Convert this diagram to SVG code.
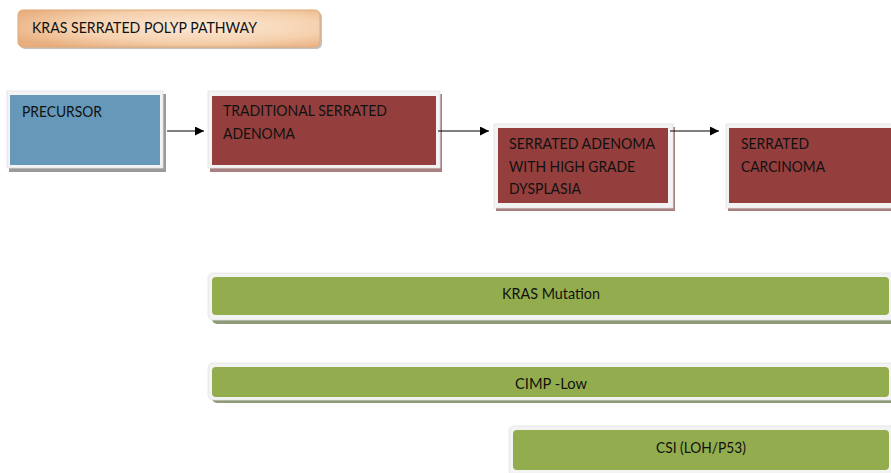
<svg xmlns="http://www.w3.org/2000/svg" width="891" height="473" viewBox="0 0 891 473">
<defs>
<radialGradient id="peach" cx="0.6" cy="0.45" r="0.7">
<stop offset="0" stop-color="#fce9d7"/>
<stop offset="0.6" stop-color="#f5d1ae"/>
<stop offset="1" stop-color="#e8ae7e"/>
</radialGradient>
<marker id="arr" viewBox="0 0 10 10" refX="10" refY="5" markerWidth="9" markerHeight="9" markerUnits="userSpaceOnUse" orient="auto">
<path d="M0,0 L10,5 L0,10 z" fill="#000"/>
</marker>
</defs>
<style>
text{font-family:Lato,"Open Sans","Liberation Sans",sans-serif;font-size:14.5px;fill:#111}
.mid{text-anchor:middle}
.frame{fill:#f3f3f3;stroke:#e2e2e2;stroke-width:0.8}
.shg{fill:#9a9a9a}
.shr{fill:#a88080}
.shgr{fill:#8f9a78}
.blue{fill:#6699b9}
.red{fill:#943f3e}
.green{fill:#93ad4e}
.conn line{stroke:#000;stroke-width:1.2;marker-end:url(#arr)}
</style>
<rect width="891" height="473" fill="#fff"/>

<g id="title">
<rect x="20" y="12" width="302" height="37" rx="5" fill="#c9c2bc"/>
<rect x="18" y="10" width="302" height="37" rx="5" fill="url(#peach)" stroke="#e0a874" stroke-width="1"/>
<text x="32" y="33" textLength="225" lengthAdjust="spacingAndGlyphs">KRAS SERRATED POLYP PATHWAY</text>
</g>

<g id="precursor">
<rect x="9" y="94" width="157" height="78" class="shg"/>
<rect x="7" y="91" width="156" height="77" class="frame"/>
<rect x="10" y="95" width="150" height="70" class="blue"/>
<text x="22" y="117" textLength="80" lengthAdjust="spacingAndGlyphs">PRECURSOR</text>
</g>

<g id="tsa">
<rect x="210" y="94" width="232" height="78" class="shr"/>
<rect x="208" y="91" width="232" height="77" class="frame"/>
<rect x="212" y="96" width="224" height="69" class="red"/>
<text x="223" y="116" textLength="164" lengthAdjust="spacingAndGlyphs">TRADITIONAL SERRATED</text>
<text x="223" y="139" textLength="72" lengthAdjust="spacingAndGlyphs">ADENOMA</text>
</g>

<g id="sahgd">
<rect x="496" y="127" width="179" height="84" class="shr"/>
<rect x="494" y="124" width="179" height="84" class="frame"/>
<rect x="498" y="128" width="170" height="75" class="red"/>
<text x="509" y="149" textLength="146" lengthAdjust="spacingAndGlyphs">SERRATED ADENOMA</text>
<text x="509" y="172" textLength="126" lengthAdjust="spacingAndGlyphs">WITH HIGH GRADE</text>
<text x="509" y="194" textLength="72" lengthAdjust="spacingAndGlyphs">DYSPLASIA</text>
</g>

<g id="carcinoma">
<rect x="728" y="127" width="170" height="84" class="shr"/>
<rect x="726" y="124" width="170" height="84" class="frame"/>
<rect x="729" y="128" width="170" height="75" class="red"/>
<text x="741" y="149" textLength="68" lengthAdjust="spacingAndGlyphs">SERRATED</text>
<text x="741" y="172" textLength="84" lengthAdjust="spacingAndGlyphs">CARCINOMA</text>
</g>

<g id="kras">
<rect x="212" y="276" width="690" height="48" rx="5" class="shgr"/>
<rect x="208" y="273" width="690" height="47" rx="5" class="frame"/>
<rect x="212" y="277" width="677" height="38" rx="4" class="green"/>
<text x="551" y="299" class="mid" textLength="98" lengthAdjust="spacingAndGlyphs">KRAS Mutation</text>
</g>

<g id="cimp">
<rect x="212" y="366" width="690" height="37" rx="5" class="shgr"/>
<rect x="208" y="363" width="690" height="37" rx="5" class="frame"/>
<rect x="212" y="367" width="677" height="30" rx="4" class="green"/>
<text x="551" y="389" class="mid" textLength="72" lengthAdjust="spacingAndGlyphs">CIMP -Low</text>
</g>

<g id="csi">
<rect x="512" y="429" width="390" height="50" rx="5" class="shgr"/>
<rect x="509" y="426" width="390" height="50" rx="5" class="frame"/>
<rect x="513" y="430" width="376" height="40" rx="4" class="green"/>
<text x="701" y="453" class="mid" textLength="90" lengthAdjust="spacingAndGlyphs">CSI (LOH/P53)</text>
</g>

<g id="connectors" class="conn">
<line x1="167" y1="131" x2="204" y2="131"/>
<line x1="438" y1="131" x2="489" y2="131"/>
<line x1="670" y1="131" x2="719" y2="131"/>
</g>
</svg>
